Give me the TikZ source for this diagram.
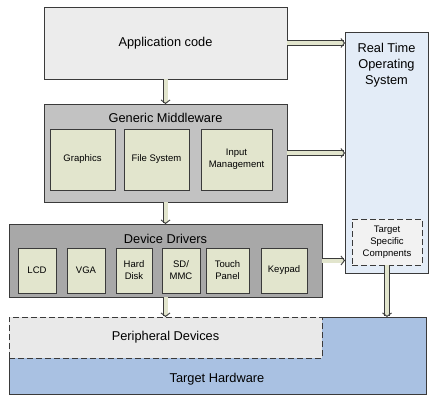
\documentclass[tikz,border=0pt]{standalone}
\usepackage{fontspec}
\setmainfont{Liberation Sans}
\usetikzlibrary{arrows.meta}
\definecolor{appgray}{HTML}{ECECEC}
\definecolor{midgray}{HTML}{C2C2C2}
\definecolor{drvgray}{HTML}{A8A8A8}
\definecolor{partgreen}{HTML}{E2E5CD}
\definecolor{rtosblue}{HTML}{E3ECF7}
\definecolor{hwblue}{HTML}{A9C1E2}
\definecolor{perigray}{HTML}{E9E9E9}
\definecolor{edgegray}{HTML}{3A3A3A}
\tikzset{every picture/.style={line width=0.75pt}}

\begin{document}
\begin{tikzpicture}[x=1pt,y=-1pt,
  box/.style={draw=edgegray,rectangle,inner sep=0pt,outer sep=0pt},
  part/.style={box,fill=partgreen,minimum height=61,align=center,font=\fontsize{9.5}{12}\selectfont},
  drvpart/.style={part,minimum height=45},
  title/.style={inner sep=0pt,font=\fontsize{12.8}{16}\selectfont,align=center},
  fatarrow/.style={draw=edgegray,line width=0.9pt,double=partgreen,double distance=4pt,
    -{Straight Barb[length=3.5pt,width=9pt]}}]
\useasboundingbox (0,0) rectangle (443,406);

%Shape: target hardware and peripheral devices
\node[box,fill=hwblue,minimum width=417,minimum height=77] (hw) at (217.5,355.5) {};
\node[box,fill=perigray,dashed,dash pattern=on 6pt off 3pt,minimum width=313,minimum height=41] (peri) at (165.5,337.5) {};
\node[title] (perititle) at (165.5,337) {Peripheral Devices};
\node[title] (hwtitle) at (217,379) {Target Hardware};

%Shape: real time operating system
\node[box,fill=rtosblue,minimum width=83,minimum height=241] (rtos) at (386.5,152.5) {};
\node[title,anchor=north] (rtostitle) at (386.5,43) {Real Time\\Operating\\System};
\node[box,fill=perigray!60!white,dashed,dash pattern=on 6pt off 3pt,minimum width=70,minimum height=46,
  align=center,font=\fontsize{9.5}{12}\selectfont] (tsc) at (387,242) {Target\\Specific\\Compnents};

%Shape: application code
\node[box,fill=appgray,minimum width=243,minimum height=72,font=\fontsize{12.8}{16}\selectfont] (app) at (165.5,43) {Application code};

%Shape: generic middleware
\node[box,fill=midgray,minimum width=243,minimum height=98] (mw) at (165.5,153) {};
\node[title] (mwtitle) at (165.5,118) {Generic Middleware};
\node[part,minimum width=65] (graphics) at (82.5,159.5) {Graphics};
\node[part,minimum width=65] (filesys) at (156.5,159.5) {File System};
\node[part,minimum width=71] (input) at (236.5,159.5) {Input\\Management};

%Shape: device drivers
\node[box,fill=drvgray,minimum width=313,minimum height=73] (dd) at (165.5,260.5) {};
\node[title] (ddtitle) at (165.5,239) {Device Drivers};
\node[drvpart,minimum width=38] (lcd) at (37,270.5) {LCD};
\node[drvpart,minimum width=38] (vga) at (86,270.5) {VGA};
\node[drvpart,minimum width=36] (disk) at (134,270.5) {Hard\\Disk};
\node[drvpart,minimum width=38] (sdmmc) at (181,270.5) {SD/\\MMC};
\node[drvpart,minimum width=43] (touch) at (227.5,270.5) {Touch\\Panel};
\node[drvpart,minimum width=46] (keypad) at (284,270.5) {Keypad};

%Arrows
\draw[fatarrow] (app.east) -- (app.east -| rtos.west);
\draw[fatarrow] (mw.east) -- (mw.east -| rtos.west);
\draw[fatarrow] (dd.east) -- (dd.east -| rtos.west);
\draw[fatarrow] (app.south) -- (mw.north);
\draw[fatarrow] (mw.south) -- (dd.north);
\draw[fatarrow] (dd.south) -- (peri.north);
\draw[fatarrow] (tsc.south) -- (tsc.south |- hw.north);

\end{tikzpicture}
\end{document}
